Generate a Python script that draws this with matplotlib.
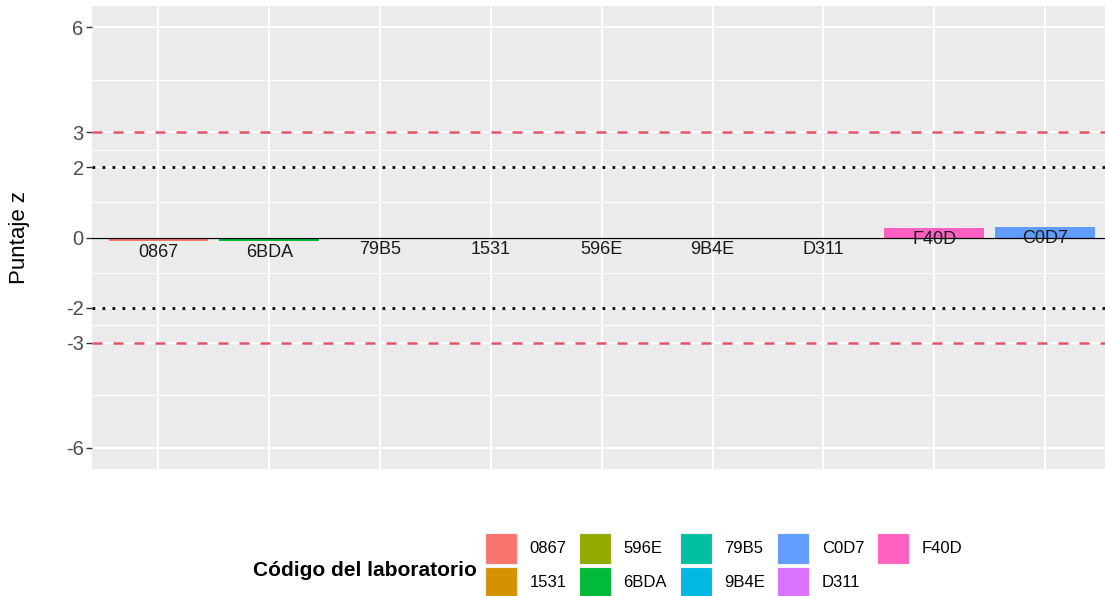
import matplotlib
matplotlib.use("Agg")
import matplotlib.pyplot as plt
from matplotlib.patches import Patch
from matplotlib.ticker import FixedLocator

plt.rcParams['font.family'] = ['Liberation Sans', 'DejaVu Sans']

# z-scores per lab, in plotting order
labs = ["0867", "6BDA", "79B5", "1531", "596E", "9B4E", "D311", "F40D", "C0D7"]
zscores = [-0.09, -0.1, 0.0, 0.0, 0.0, 0.0, 0.0, 0.27, 0.3]

# legend order (sorted codes) and ggplot hue colours
legend_labs = ["0867", "1531", "596E", "6BDA", "79B5", "9B4E", "C0D7", "D311", "F40D"]
legend_cols = ["#F8766D", "#D39200", "#93AA00", "#00BA38", "#00C19F",
               "#00B9E3", "#619CFF", "#DB72FB", "#FF61C3"]
lab_color = dict(zip(legend_labs, legend_cols))

warn_lim = [2, -2]
action_lim = [3, -3]
y_breaks = [-6, -3, -2, 0, 2, 3, 6]
y_minor = [-4.5, -2.5, -1, 1, 2.5, 4.5]

W, H = 1105, 596
fig = plt.figure(figsize=(W / 100, H / 100), dpi=100)
ax = fig.add_axes([92 / W, 127 / H, (1111.5 - 92) / W, (469 - 6) / H])
ax.set_facecolor("#EBEBEB")

x = list(range(1, len(labs) + 1))
ax.bar(x, zscores, width=0.9, color=[lab_color[l] for l in labs], zorder=3)

ax.axhline(0, color="black", lw=0.9, zorder=4)
for y in action_lim:
    ax.axhline(y, color="#E15569", lw=1.8, ls=(0, (4, 4.4)), zorder=4)
for y in warn_lim:
    ax.axhline(y, color="black", lw=2, ls=(0, (1, 2.6)), zorder=4)

for xi, lab, z in zip(x, labs, zscores):
    ax.annotate(lab, (xi, z), xytext=(0, -8.5), textcoords="offset points",
                ha="center", va="center", fontsize=13, color="#1A1A1A", zorder=5)

ax.set_xlim(0.4, 9.6)
ax.set_ylim(-6.6, 6.6)
ax.set_xticks(x)
ax.set_xticklabels([])
ax.tick_params(axis="x", length=0)
ax.yaxis.set_major_locator(FixedLocator(y_breaks))
ax.yaxis.set_minor_locator(FixedLocator(y_minor))
ax.set_yticklabels([str(b) for b in y_breaks])
ax.tick_params(axis="y", which="major", length=4, width=1, color="#333333",
               labelsize=14.5, labelcolor="#4D4D4D", pad=2)
ax.tick_params(axis="y", which="minor", length=0)
ax.grid(which="major", color="white", lw=1.4, zorder=0)
ax.grid(which="minor", axis="y", color="white", lw=0.7, zorder=0)
ax.set_axisbelow(True)
for s in ax.spines.values():
    s.set_visible(False)

ax.set_ylabel("Puntaje z", fontsize=16)
ax.yaxis.set_label_coords(-62 / (1111.5 - 92), 0.5)

handles = [Patch(facecolor=c, edgecolor="#F2F2F2", lw=0.8) for c in legend_cols]
fig.legend(handles, legend_labs, loc="upper left",
           bbox_to_anchor=(485 / W, 1 - 533 / H), ncol=5, frameon=False,
           fontsize=12, borderpad=0, handlelength=1.92, handleheight=2.45,
           handletextpad=0.75, labelspacing=0.2, columnspacing=0.75,
           borderaxespad=0)
fig.text(253 / W, 1 - 570 / H, "Código del laboratorio", fontsize=15,
         fontweight="bold", va="center", ha="left")

fig.savefig("out.png", dpi=100)
